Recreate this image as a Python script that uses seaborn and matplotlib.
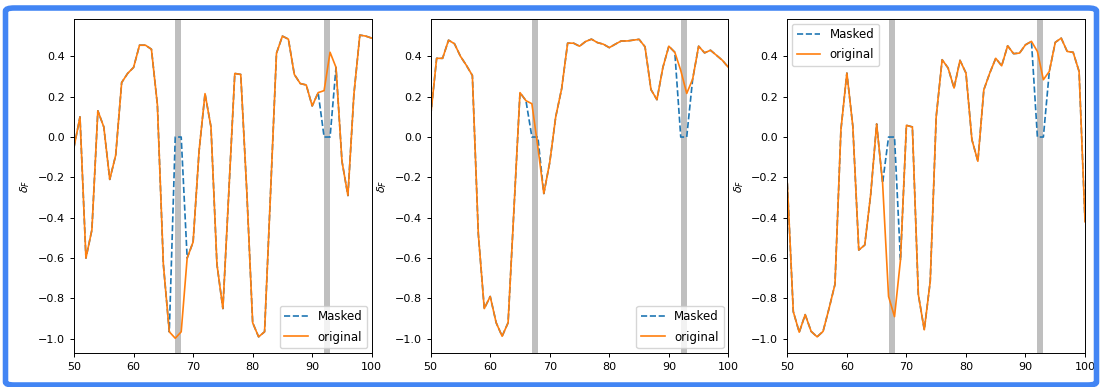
import numpy as np
import matplotlib
matplotlib.use("Agg")
import matplotlib.pyplot as plt
from matplotlib.patches import FancyBboxPatch
import seaborn as sns

# Time steps shown on the x axis
steps = list(range(50, 101))

# Feature deviation for three samples (steps 50..100)
sample_a = [-0.05, 0.10, -0.60, -0.46, 0.13, 0.05, -0.21, -0.09, 0.27, 0.315,
            0.345, 0.455, 0.455, 0.435, 0.16, -0.63, -0.965, -0.997, -0.965, -0.60,
            -0.52, -0.07, 0.215, 0.05, -0.63, -0.85, -0.27, 0.315, 0.31, -0.26,
            -0.92, -0.99, -0.965, -0.28, 0.415, 0.50, 0.485, 0.31, 0.265, 0.258,
            0.154, 0.22, 0.23, 0.42, 0.345, -0.12, -0.29, 0.21, 0.505, 0.50, 0.49]

sample_b = [0.105, 0.39, 0.39, 0.48, 0.462, 0.40, 0.355, 0.305, -0.48, -0.85,
            -0.79, -0.92, -0.987, -0.92, -0.35, 0.22, 0.18, 0.165, -0.05, -0.28,
            -0.125, 0.10, 0.24, 0.465, 0.465, 0.45, 0.473, 0.485, 0.468, 0.46,
            0.443, 0.46, 0.476, 0.476, 0.48, 0.484, 0.447, 0.235, 0.185, 0.345,
            0.45, 0.42, 0.33, 0.216, 0.287, 0.45, 0.417, 0.43, 0.405, 0.38, 0.345]

sample_c = [-0.23, -0.865, -0.967, -0.88, -0.963, -0.99, -0.963, -0.85, -0.73, 0.036,
            0.317, 0.053, -0.56, -0.535, -0.285, 0.065, -0.228, -0.79, -0.89, -0.61,
            0.058, 0.05, -0.78, -0.955, -0.715, 0.10, 0.383, 0.342, 0.243, 0.38,
            0.317, -0.013, -0.12, 0.234, 0.317, 0.39, 0.353, 0.452, 0.413, 0.416,
            0.457, 0.474, 0.424, 0.284, 0.325, 0.469, 0.49, 0.424, 0.42, 0.325, -0.42]

samples = [sample_a, sample_b, sample_c]

# Step ranges whose values are zeroed out by the mask
mask_spans = [(67, 68), (92, 93)]

BLUE = "#1f77b4"
ORANGE = "#ff7f0e"

fig, axes = plt.subplots(1, 3, figsize=(11, 3.87), dpi=100)
fig.subplots_adjust(left=0.0673, right=0.9864, top=0.951, bottom=0.0879, wspace=0.198)

legend_locs = ["lower right", "lower right", "upper left"]

for ax, values, loc in zip(axes, samples, legend_locs):
    original = np.array(values)
    masked = original.copy()
    idx = np.array(steps)
    for lo, hi in mask_spans:
        masked[(idx >= lo) & (idx <= hi)] = 0.0
        ax.axvspan(lo, hi, color="grey", alpha=0.5, lw=0)

    sns.lineplot(x=steps, y=masked, ax=ax, color=BLUE, linestyle="--",
                 linewidth=1.2, label="Masked")
    sns.lineplot(x=steps, y=original, ax=ax, color=ORANGE, linewidth=1.2,
                 label="original")

    ax.set_xlim(50, 100)
    ax.set_ylim(-1.07, 0.585)
    ax.set_xticks([50, 60, 70, 80, 90, 100])
    ax.set_yticks([-1.0, -0.8, -0.6, -0.4, -0.2, 0.0, 0.2, 0.4])
    ax.tick_params(labelsize=8, width=0.7, length=3)
    ax.set_ylabel(r"$\delta_F$", fontsize=8)
    for sp in ax.spines.values():
        sp.set_linewidth(0.7)
    ax.legend(loc=loc, fontsize=8.5, handlelength=2.0, labelspacing=0.6,
              borderaxespad=0.4)

# Rounded blue frame around the whole figure
frame = FancyBboxPatch((5.5 / 1100, 2 / 387), 1091 / 1100, 377 / 387,
                       boxstyle="round,pad=0,rounding_size=0.008",
                       transform=fig.transFigure, fill=False,
                       edgecolor="#4285f4", linewidth=4, zorder=10)
fig.patches.append(frame)

fig.savefig("out.png", dpi=100)
